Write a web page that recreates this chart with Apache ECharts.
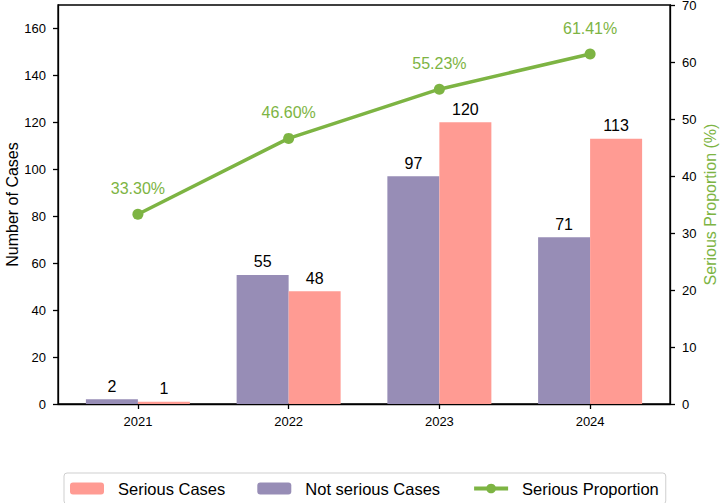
<!DOCTYPE html>
<html>
<head>
<meta charset="utf-8">
<script src="https://cdn.jsdelivr.net/npm/echarts@6/dist/echarts.min.js"></script>
<style>
  html, body { margin: 0; padding: 0; background: #fff; }
  #chart { width: 720px; height: 503px; }
</style>
</head>
<body>
<div id="chart"></div>
<script>
var years = ['2021', '2022', '2023', '2024'];
var notSerious = [2, 55, 97, 71];
var serious = [1, 48, 120, 113];
var proportion = [33.30, 46.60, 55.23, 61.41];
var leftTicks = [0, 20, 40, 60, 80, 100, 120, 140, 160];
var rightTicks = [0, 10, 20, 30, 40, 50, 60, 70];

var pink = '#ff9b93';
var purple = '#978db6';
var green = '#7db443';
var font = 'Liberation Sans, Arial, sans-serif';

// x positions are the year indexes, so the axis can leave the same margin as the original plot
var xPos = years.map(function(y, i) { return i; });
function pairs(values) {
  return values.map(function(v, i) { return [xPos[i], v]; });
}

var chart = echarts.init(document.getElementById('chart'), null, { renderer: 'svg' });
chart.setOption({
  animation: false,
  textStyle: { fontFamily: font },
  grid: {
    left: 58, right: 50, top: 5, bottom: 99,
    outerBoundsMode: 'none',
    containLabel: false,
    show: true, borderColor: '#000', borderWidth: 1.3
  },
  legend: {
    left: 64, top: 473,
    padding: [7, 7, 7, 6],
    borderColor: '#cfcfcf', borderWidth: 1, borderRadius: 3,
    itemWidth: 34, itemHeight: 12, itemGap: 32,
    textStyle: { fontSize: 16.5, color: '#000', padding: [0, 0, 0, 9] },
    lineStyle: { width: 4 },
    data: ['Serious Cases', 'Not serious Cases', 'Serious Proportion']
  },
  xAxis: {
    type: 'value',
    min: -0.53, max: 3.53,
    splitLine: { show: false },
    axisLine: { onZero: false, lineStyle: { color: '#000', width: 1.3 } },
    axisTick: { show: true, length: 5, customValues: xPos, lineStyle: { color: '#000', width: 1.3 } },
    axisLabel: {
      color: '#000', fontSize: 13, margin: 11, customValues: xPos,
      formatter: function(v) { return years[Math.round(v)]; }
    }
  },
  yAxis: [{
    type: 'value',
    min: 0, max: 170,
    position: 'left',
    name: 'Number of Cases',
    nameLocation: 'middle',
    nameGap: 38,
    nameMoveOverlap: false,
    nameTextStyle: { color: '#000', fontSize: 16 },
    axisLine: { show: true, onZero: false, lineStyle: { color: '#000', width: 1.3 } },
    axisTick: { show: true, length: 5, customValues: leftTicks, lineStyle: { color: '#000', width: 1.3 } },
    axisLabel: { color: '#000', fontSize: 13, margin: 12, customValues: leftTicks },
    splitLine: { show: false }
  }, {
    type: 'value',
    min: 0, max: 70,
    position: 'right',
    name: 'Serious Proportion (%)',
    nameLocation: 'middle',
    nameRotate: 90,
    nameGap: 32,
    nameMoveOverlap: false,
    nameTextStyle: { color: green, fontSize: 16 },
    axisLine: { show: true, onZero: false, lineStyle: { color: '#000', width: 1.3 } },
    axisTick: { show: true, length: 5, customValues: rightTicks, lineStyle: { color: '#000', width: 1.3 } },
    axisLabel: { color: '#000', fontSize: 13, margin: 12, customValues: rightTicks },
    splitLine: { show: false }
  }],
  series: [{
    name: 'Not serious Cases',
    type: 'bar',
    data: pairs(notSerious),
    barWidth: 52,
    barGap: '0%',
    itemStyle: { color: purple },
    label: {
      show: true, position: 'top', color: '#000', fontSize: 16, distance: 5,
      formatter: function(p) { return p.value[1]; }
    }
  }, {
    name: 'Serious Cases',
    type: 'bar',
    data: pairs(serious),
    barWidth: 52,
    barGap: '0%',
    itemStyle: { color: pink },
    label: {
      show: true, position: 'top', color: '#000', fontSize: 16, distance: 5,
      formatter: function(p) { return p.value[1]; }
    }
  }, {
    name: 'Serious Proportion',
    type: 'line',
    yAxisIndex: 1,
    data: pairs(proportion),
    symbol: 'circle',
    symbolSize: 11,
    lineStyle: { color: green, width: 3.5 },
    itemStyle: { color: green },
    label: {
      show: true, position: 'top', distance: 12, color: green, fontSize: 16,
      formatter: function(p) { return p.value[1].toFixed(2) + '%'; }
    }
  }]
});
window.addEventListener('resize', function() { chart.resize(); });
</script>
</body>
</html>
